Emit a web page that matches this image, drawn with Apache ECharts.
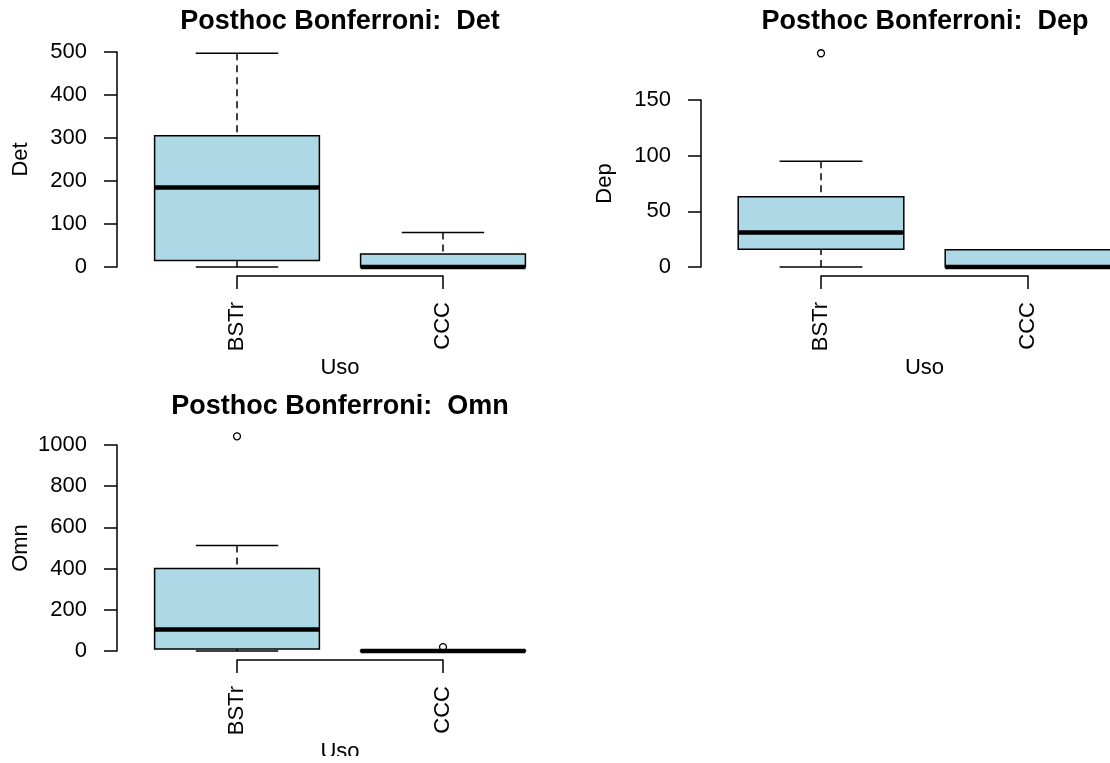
<!DOCTYPE html>
<html>
<head>
<meta charset="utf-8">
<script src="https://cdn.jsdelivr.net/npm/echarts@6/dist/echarts.min.js"></script>
<style>
  html, body { margin: 0; padding: 0; background: #ffffff; }
  #chart { width: 1110px; height: 756px; }
</style>
</head>
<body>
<div id="chart"></div>
<script>
// ---- data ----
const categories = ['BSTr', 'CCC'];
const titles = ['Posthoc Bonferroni:  Det', 'Posthoc Bonferroni:  Dep', 'Posthoc Bonferroni:  Omn'];
const yNames = ['Det', 'Dep', 'Omn'];
const xName = 'Uso';
// [min, Q1, median, Q3, max] per category
const detBox = [[0, 15, 185, 305, 497], [0, 0, 0, 30, 80]];
const depBox = [[0, 16, 31, 63, 95], [0, 0, 0, 15.5, 15.5]];
const omnBox = [[0, 10, 104, 400, 512], [0, 0, 0, 2, 2]];
// outliers [category, value]
const detOut = [];
const depOut = [['BSTr', 192]];
const omnOut = [['BSTr', 1042], ['CCC', 19]];
// y axis tick ranges [min, max, interval]
const detTicks = [0, 500, 100];
const depTicks = [0, 150, 50];
const omnTicks = [0, 1000, 200];

// ---- layout ----
const FONT = 'Liberation Sans, Arial, sans-serif';
const grids = [
  { left: 237, top: 52, width: 206, height: 215, outerBoundsMode: 'none', containLabel: false },
  { left: 821, top: 100, width: 207, height: 167, outerBoundsMode: 'none', containLabel: false },
  { left: 237, top: 445, width: 206, height: 206, outerBoundsMode: 'none', containLabel: false }
];
const titlePos = [[340, 8], [925, 8], [340, 393]];
const boxes = [detBox, depBox, omnBox];
const outs = [detOut, depOut, omnOut];
const ticks = [detTicks, depTicks, omnTicks];

function renderBox(params, api) {
  const ci = api.value(0);
  const vals = [api.value(1), api.value(2), api.value(3), api.value(4), api.value(5)];
  const p = vals.map(v => api.coord([ci, v]));
  const x = p[0][0];
  const band = Math.abs(api.coord([1, 0])[0] - api.coord([0, 0])[0]);
  const hb = band * 0.4, hc = band * 0.2;
  const yMin = p[0][1], yQ1 = p[1][1], yMed = p[2][1], yQ3 = p[3][1], yMax = p[4][1];
  const lineStyle = { stroke: '#000', lineWidth: 1.5, fill: null };
  const ch = [];
  if (yQ3 - yMax > 0.5) ch.push({ type: 'line', shape: { x1: x, y1: yMax, x2: x, y2: yQ3 }, style: Object.assign({}, lineStyle, { lineDash: [7, 5] }) });
  if (yMin - yQ1 > 0.5) ch.push({ type: 'line', shape: { x1: x, y1: yMin, x2: x, y2: yQ1 }, style: Object.assign({}, lineStyle, { lineDash: [7, 5] }) });
  ch.push({ type: 'line', shape: { x1: x - hc, y1: yMax, x2: x + hc, y2: yMax }, style: lineStyle });
  ch.push({ type: 'line', shape: { x1: x - hc, y1: yMin, x2: x + hc, y2: yMin }, style: lineStyle });
  ch.push({ type: 'rect', shape: { x: x - hb, y: yQ3, width: 2 * hb, height: Math.max(yQ1 - yQ3, 0.5) }, style: { fill: '#ADD8E6', stroke: '#000', lineWidth: 1.5 } });
  ch.push({ type: 'line', shape: { x1: x - hb, y1: yMed, x2: x + hb, y2: yMed }, style: { stroke: '#000', lineWidth: 4.5 } });
  return { type: 'group', children: ch };
}

const option = {
  animation: false,
  backgroundColor: '#ffffff',
  title: titles.map((t, i) => ({
    text: t, left: titlePos[i][0], top: titlePos[i][1], textAlign: 'center', padding: 0,
    textStyle: { fontFamily: FONT, fontWeight: 'bold', fontSize: 27, color: '#000' }
  })),
  grid: grids,
  xAxis: grids.map((g, i) => ({
    type: 'category', gridIndex: i, data: categories, boundaryGap: false, offset: 9,
    axisLine: { show: true, onZero: false, lineStyle: { color: '#000', width: 1.5 } },
    axisTick: { show: true, length: 13, inside: false, lineStyle: { color: '#000', width: 1.5 } },
    axisLabel: { rotate: 90, margin: 26, interval: 0, fontFamily: FONT, fontSize: 22, color: '#000' },
    splitLine: { show: false },
    name: xName, nameLocation: 'middle', nameGap: 81,
    nameTextStyle: { fontFamily: FONT, fontSize: 22, color: '#000' }
  })),
  yAxis: grids.map((g, i) => ({
    type: 'value', gridIndex: i, min: ticks[i][0], max: ticks[i][1], interval: ticks[i][2], offset: 120,
    axisLine: { show: true, onZero: false, lineStyle: { color: '#000', width: 1.5 } },
    axisTick: { show: true, length: 13, inside: false, lineStyle: { color: '#000', width: 1.5 } },
    axisLabel: { margin: 30, fontFamily: FONT, fontSize: 22, color: '#000', formatter: v => String(v) },
    splitLine: { show: false },
    name: yNames[i], nameLocation: 'middle', nameGap: 85,
    nameTextStyle: { fontFamily: FONT, fontSize: 22, color: '#000' }
  })),
  series: []
};

boxes.forEach((b, i) => {
  option.series.push({
    type: 'custom', xAxisIndex: i, yAxisIndex: i, clip: false, silent: true,
    renderItem: renderBox,
    encode: { x: 0, y: [1, 2, 3, 4, 5] },
    data: b.map((s, ci) => [ci].concat(s))
  });
  option.series.push({
    type: 'scatter', xAxisIndex: i, yAxisIndex: i, clip: false, silent: true,
    symbol: 'circle', symbolSize: 7, z: 5,
    itemStyle: { color: 'rgba(0,0,0,0)', borderColor: '#000', borderWidth: 1.3, opacity: 1 },
    data: outs[i]
  });
});

const chart = echarts.init(document.getElementById('chart'));
chart.setOption(option);
</script>
</body>
</html>
